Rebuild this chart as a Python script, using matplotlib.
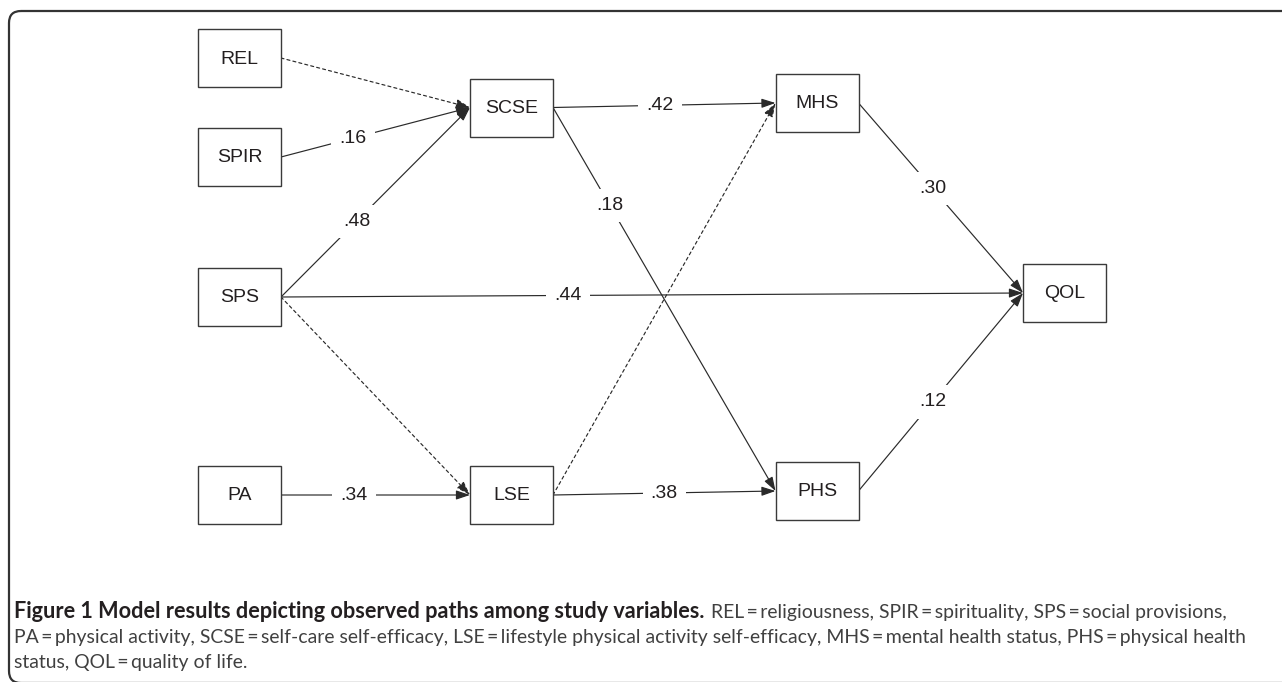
"""Path model diagram: observed paths among study variables."""

import matplotlib

matplotlib.use("Agg")
import matplotlib.pyplot as plt
from matplotlib.patches import FancyArrowPatch, FancyBboxPatch, Rectangle

# variables in the model
NODES = ["REL", "SPIR", "SPS", "PA", "SCSE", "LSE", "MHS", "PHS", "QOL"]

# paths: source -> target with standardized coefficient (None = non-significant, dashed)
SOURCES = ["REL", "SPIR", "SPS", "SPS", "SPS", "PA", "SCSE", "SCSE", "LSE", "LSE", "MHS", "PHS"]
TARGETS = ["SCSE", "SCSE", "SCSE", "QOL", "LSE", "LSE", "MHS", "PHS", "MHS", "PHS", "QOL", "QOL"]
COEFS = [None, ".16", ".48", ".44", None, ".34", ".42", ".18", None, ".38", ".30", ".12"]

EQ = "\u2009=\u2009"
CAPTION_BOLD = "Figure 1 Model results depicting observed paths among study variables."
CAPTION_LINES = [
    f"REL{EQ}religiousness, SPIR{EQ}spirituality, SPS{EQ}social provisions,",
    f"PA{EQ}physical activity, SCSE{EQ}self-care self-efficacy, LSE{EQ}lifestyle physical activity "
    f"self-efficacy, MHS{EQ}mental health status, PHS{EQ}physical health",
    f"status, QOL{EQ}quality of life.",
]

# layout (pixel space of the figure)
W, H = 1282, 682
BOX_W, BOX_H = 83, 58
NODE_XY = {
    "REL": (239.5, 58),
    "SPIR": (239.5, 157),
    "SPS": (239.5, 297),
    "PA": (239.5, 495),
    "SCSE": (511.5, 107.5),
    "LSE": (511.5, 495),
    "MHS": (817, 103),
    "PHS": (817, 491),
    "QOL": (1064.5, 293),
}
# where along each path the coefficient sits (fraction of the path)
LABEL_T = [None, 0.38, 0.40, 0.387, None, 0.386, 0.48, 0.256, None, 0.5, 0.45, 0.45]

INK = "#231f20"
LINE = "#2a2a2a"
CAP_FONT = ["Lato", "DejaVu Sans"]


def draw_paths(ax):
    for src, dst, coef, t in zip(SOURCES, TARGETS, COEFS, LABEL_T):
        x0 = NODE_XY[src][0] + BOX_W / 2
        y0 = NODE_XY[src][1]
        x1 = NODE_XY[dst][0] - BOX_W / 2
        y1 = NODE_XY[dst][1]
        style = "-" if coef else (0, (2.6, 2.6))
        arrow = FancyArrowPatch(
            (x0, y0), (x1, y1),
            arrowstyle="-|>,head_length=0.6,head_width=0.2",
            mutation_scale=14, lw=0.85, color=LINE, linestyle=style,
            shrinkA=0, shrinkB=0, zorder=1,
        )
        ax.add_patch(arrow)
        if coef:
            ax.text(x0 + t * (x1 - x0), y0 + t * (y1 - y0), coef,
                    ha="center", va="center", fontsize=14, color=INK,
                    family="Liberation Sans", zorder=2,
                    bbox=dict(boxstyle="square,pad=0.42", fc="white", ec="none"))


def draw_nodes(ax):
    for name in NODES:
        cx, cy = NODE_XY[name]
        ax.add_patch(Rectangle((cx - BOX_W / 2, cy - BOX_H / 2), BOX_W, BOX_H,
                               fc="white", ec="#3a3a3a", lw=1.0, zorder=3))
        ax.text(cx, cy + 1, name, ha="center", va="center", fontsize=14,
                color=INK, family="Liberation Sans", zorder=4)


def fit_size(ax, renderer, text, width, **kw):
    probe = ax.text(0, 0, text, fontsize=12, family=CAP_FONT, **kw)
    size = 12 * width / probe.get_window_extent(renderer).width
    probe.remove()
    return size


def draw_caption(fig, ax):
    renderer = fig.canvas.get_renderer()
    reg = fit_size(ax, renderer, CAPTION_LINES[1], 1243 - 14)
    bld = fit_size(ax, renderer, CAPTION_BOLD, 700 - 14, fontweight="bold")

    bold = ax.text(14, 618, CAPTION_BOLD, fontsize=bld, family=CAP_FONT,
                   fontweight="bold", color=INK, va="baseline")
    bold_end = 14 + bold.get_window_extent(renderer).width
    ax.text(bold_end + 7, 618, CAPTION_LINES[0], fontsize=reg, family=CAP_FONT,
            color="#404040", va="baseline")
    ax.text(14, 643, CAPTION_LINES[1], fontsize=reg, family=CAP_FONT,
            color="#404040", va="baseline")
    ax.text(14, 668, CAPTION_LINES[2], fontsize=reg, family=CAP_FONT,
            color="#404040", va="baseline")


def main():
    fig = plt.figure(figsize=(W / 100, H / 100), dpi=100)
    ax = fig.add_axes([0, 0, 1, 1])
    ax.set_xlim(0, W)
    ax.set_ylim(H, 0)
    ax.axis("off")

    # rounded panel border, open to the right and bottom
    ax.add_patch(FancyBboxPatch((9, 11), 1320, 672,
                                boxstyle="round,pad=0,rounding_size=12",
                                fill=False, ec="#333333", lw=1.6, zorder=0))

    draw_paths(ax)
    draw_nodes(ax)
    draw_caption(fig, ax)

    fig.savefig("out.png", dpi=100)
    plt.close(fig)


if __name__ == "__main__":
    main()
